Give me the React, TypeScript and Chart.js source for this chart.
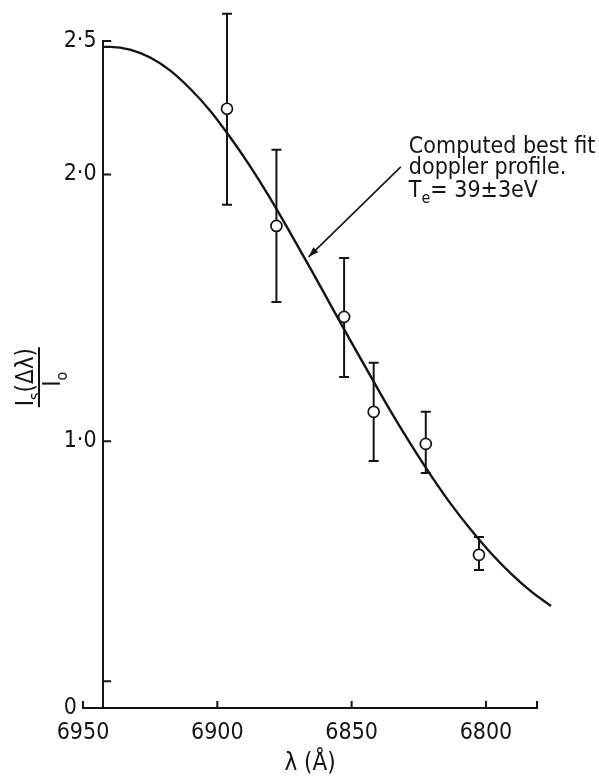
import React, { useEffect, useRef } from 'react';
import { Chart, registerables } from 'chart.js';

Chart.register(...registerables);

// ---- data ----
const CURVE_X = [6942.5, 6939.9, 6932.5, 6925.0, 6917.5, 6910.1, 6902.6, 6895.2, 6887.7, 6880.2, 6872.8, 6865.3, 6857.9, 6850.4, 6842.9, 6835.5, 6828.0, 6820.5, 6813.1, 6805.6, 6798.2, 6790.7, 6783.2, 6775.8];
const CURVE_Y = [2.478, 2.478, 2.468, 2.438, 2.389, 2.321, 2.238, 2.139, 2.029, 1.908, 1.78, 1.647, 1.512, 1.376, 1.243, 1.113, 0.989, 0.872, 0.765, 0.668, 0.581, 0.504, 0.437, 0.382];

const POINT_X = [6896.4, 6878.0, 6852.8, 6841.8, 6822.4, 6802.6];
const POINT_Y = [2.246, 1.807, 1.466, 1.11, 0.99, 0.574];
const ERR_HIGH = [2.602, 2.092, 1.687, 1.294, 1.11, 0.641];
const ERR_LOW = [1.886, 1.522, 1.241, 0.926, 0.881, 0.517];

const X_TICKS = [6950, 6900, 6850, 6800];
const X_END = 6781;
const Y_TICKS = [0, 0.1, 1.0, 2.0, 2.5];
const Y_TICK_LABELS = ['0    ', '', '1·0 ', '2·0 ', '2·5 '];
const Y_AXIS_AT = 6942.5;

const ANNOT_X = 6828.7;
const ANNOT_Y = 2.081;
const ARROW_FROM = [6831.7, 2.028];
const ARROW_TO = [6866.0, 1.691];
const Y_TITLE_AT = 1.24;

const INK = '#141414';
const FONT = '"DejaVu Sans Condensed", "Liberation Sans Narrow", "DejaVu Sans", sans-serif';

type Run = [string, boolean];

function drawRuns(ctx: CanvasRenderingContext2D, runs: Run[], x: number, y: number, size: number, align: 'left' | 'center') {
  const subSize = Math.round(size * 0.68);
  const widths = runs.map(([t, sub]) => {
    ctx.font = `${sub ? subSize : size}px ${FONT}`;
    return ctx.measureText(t).width;
  });
  const total = widths.reduce((a, b) => a + b, 0);
  let cx = align === 'center' ? x - total / 2 : x;
  ctx.textAlign = 'left';
  ctx.textBaseline = 'alphabetic';
  runs.forEach(([t, sub], i) => {
    ctx.font = `${sub ? subSize : size}px ${FONT}`;
    ctx.fillText(t, cx, sub ? y + size * 0.28 : y);
    cx += widths[i];
  });
}

const decor = {
  id: 'decor',
  beforeDatasetsDraw(chart: any) {
    const { ctx } = chart;
    const x = chart.scales.x;
    const y = chart.scales.y;
    ctx.save();
    ctx.strokeStyle = INK;
    ctx.lineWidth = 2;
    POINT_X.forEach((v, i) => {
      const X = x.getPixelForValue(v);
      const yh = y.getPixelForValue(ERR_HIGH[i]);
      const yl = y.getPixelForValue(ERR_LOW[i]);
      ctx.beginPath();
      ctx.moveTo(X, yh); ctx.lineTo(X, yl);
      ctx.moveTo(X - 5, yh); ctx.lineTo(X + 5, yh);
      ctx.moveTo(X - 5, yl); ctx.lineTo(X + 5, yl);
      ctx.stroke();
    });
    ctx.restore();
  },
  afterDraw(chart: any) {
    const { ctx, chartArea } = chart;
    const x = chart.scales.x;
    const y = chart.scales.y;
    ctx.save();
    ctx.strokeStyle = INK;
    ctx.fillStyle = INK;
    ctx.lineWidth = 2;
    // inward tick marks
    ctx.beginPath();
    [...X_TICKS, X_END].forEach((v) => {
      const X = x.getPixelForValue(v);
      ctx.moveTo(X, chartArea.bottom);
      ctx.lineTo(X, chartArea.bottom - 7);
    });
    const ax = x.getPixelForValue(Y_AXIS_AT);
    Y_TICKS.filter((v) => v > 0).forEach((v) => {
      const Y = y.getPixelForValue(v);
      ctx.moveTo(ax, Y);
      ctx.lineTo(ax + 8, Y);
    });
    ctx.stroke();

    // arrow
    const fx = x.getPixelForValue(ARROW_FROM[0]);
    const fy = y.getPixelForValue(ARROW_FROM[1]);
    const tx = x.getPixelForValue(ARROW_TO[0]);
    const ty = y.getPixelForValue(ARROW_TO[1]);
    ctx.lineWidth = 1.6;
    ctx.beginPath();
    ctx.moveTo(fx, fy);
    ctx.lineTo(tx, ty);
    ctx.stroke();
    const ang = Math.atan2(ty - fy, tx - fx);
    ctx.beginPath();
    ctx.moveTo(tx, ty);
    ctx.lineTo(tx - 10 * Math.cos(ang) + 3.5 * Math.sin(ang), ty - 10 * Math.sin(ang) - 3.5 * Math.cos(ang));
    ctx.lineTo(tx - 10 * Math.cos(ang) - 3.5 * Math.sin(ang), ty - 10 * Math.sin(ang) + 3.5 * Math.cos(ang));
    ctx.closePath();
    ctx.fill();

    // annotation text
    const ax0 = x.getPixelForValue(ANNOT_X);
    const ay0 = y.getPixelForValue(ANNOT_Y);
    drawRuns(ctx, [['Computed best fit', false]], ax0, ay0, 23, 'left');
    drawRuns(ctx, [['doppler profile.', false]], ax0, ay0 + 21.5, 23, 'left');
    drawRuns(ctx, [['T', false], ['e', true], ['= 39±3eV', false]], ax0, ay0 + 44, 23, 'left');

    // y-axis title as a fraction, rotated
    const cx = chartArea.left - 44;
    const cy = y.getPixelForValue(Y_TITLE_AT);
    ctx.translate(cx, cy);
    ctx.rotate(-Math.PI / 2);
    ctx.lineWidth = 2;
    ctx.beginPath();
    ctx.moveTo(-30, 0);
    ctx.lineTo(30, 0);
    ctx.stroke();
    drawRuns(ctx, [['I', false], ['s', true], ['(Δλ)', false]], 0, -6, 24, 'center');
    drawRuns(ctx, [['I', false], ['o', true]], -2, 21, 24, 'center');
    ctx.restore();
  },
};

export default function App() {
  const ref = useRef<HTMLCanvasElement>(null);
  useEffect(() => {
    const canvas = ref.current;
    if (!canvas) return;
    const chart = new Chart(canvas, {
      type: 'scatter',
      data: {
        datasets: [
          {
            type: 'line',
            data: CURVE_X.map((v, i) => ({ x: v, y: CURVE_Y[i] })),
            borderColor: INK,
            borderWidth: 2.4,
            pointRadius: 0,
            cubicInterpolationMode: 'monotone',
            fill: false,
            clip: false,
            order: 2,
          } as any,
          {
            type: 'scatter',
            data: POINT_X.map((v, i) => ({ x: v, y: POINT_Y[i] })),
            pointRadius: 5.5,
            pointBackgroundColor: '#ffffff',
            pointBorderColor: INK,
            pointBorderWidth: 1.7,
            clip: false,
            order: 1,
          } as any,
        ],
      },
      options: {
        animation: false,
        responsive: true,
        maintainAspectRatio: false,
        layout: { padding: { left: 83, right: 62, top: 41, bottom: 0 } },
        plugins: { legend: { display: false }, tooltip: { enabled: false } },
        scales: {
          x: {
            type: 'linear',
            min: X_END,
            max: 6950,
            reverse: true,
            grid: { display: false },
            border: { display: true, color: INK, width: 2 },
            afterBuildTicks: (s: any) => {
              s.ticks = X_TICKS.map((v) => ({ value: v }));
            },
            afterFit: (s: any) => {
              s.height = 75;
            },
            ticks: {
              color: INK,
              font: { family: FONT, size: 23 },
              padding: 3,
              maxRotation: 0,
              autoSkip: false,
              callback: (v: any) => String(v),
            },
            title: {
              display: true,
              text: 'λ (Å)',
              color: INK,
              font: { family: FONT, size: 24 },
              padding: { top: 0, bottom: 5 },
            },
          },
          y: {
            type: 'linear',
            min: 0,
            max: 2.5,
            position: { x: Y_AXIS_AT } as any,
            grid: { display: false },
            border: { display: true, color: INK, width: 2 },
            afterBuildTicks: (s: any) => {
              s.ticks = Y_TICKS.map((v) => ({ value: v }));
            },
            ticks: {
              color: INK,
              font: { family: FONT, size: 23 },
              padding: 6,
              autoSkip: false,
              callback: (v: any) => {
                const i = Y_TICKS.indexOf(Number(v));
                return i >= 0 ? Y_TICK_LABELS[i] : '';
              },
            },
          },
        },
      } as any,
      plugins: [decor],
    });
    return () => chart.destroy();
  }, []);
  return (
    <div style={{ position: 'fixed', left: 0, top: 0, width: 599, height: 783, background: '#fff' }}>
      <canvas ref={ref} />
    </div>
  );
}
